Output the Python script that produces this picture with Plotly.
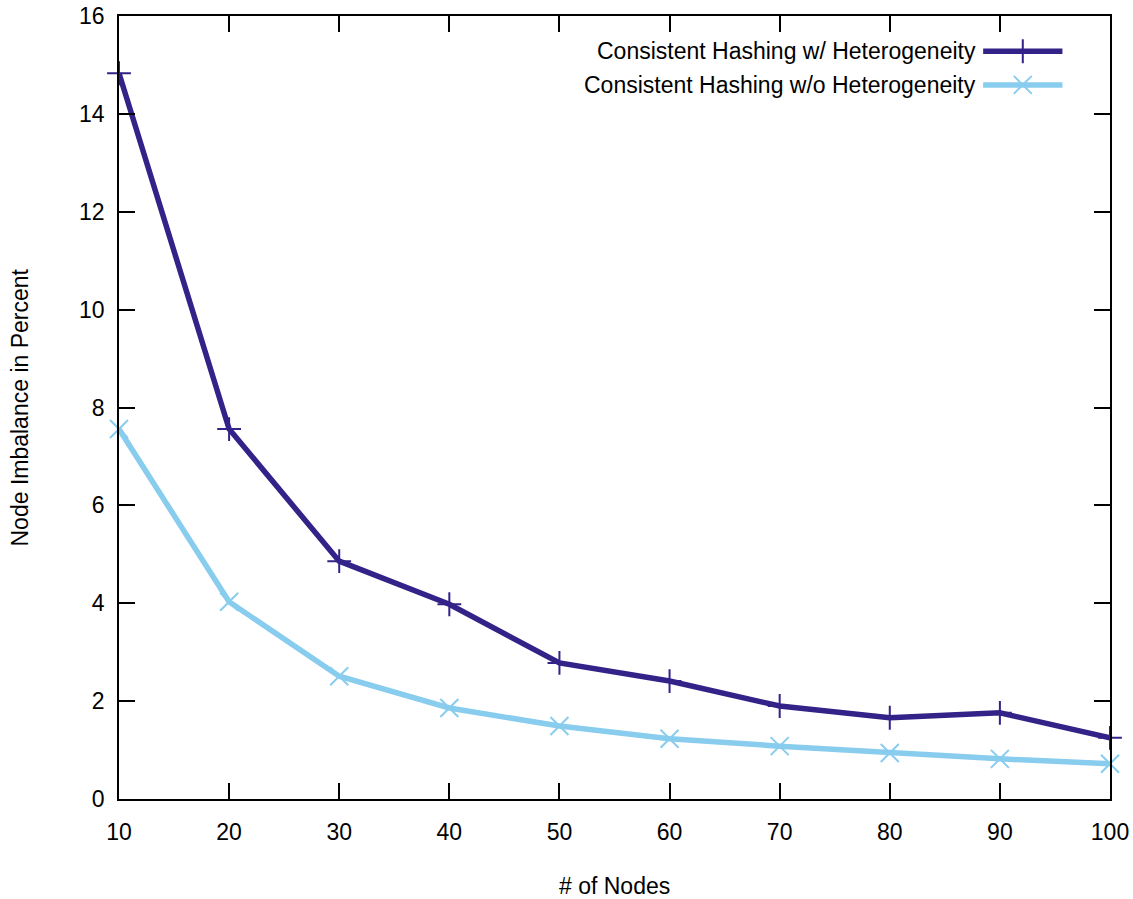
import plotly.graph_objects as go

nodes = [10, 20, 30, 40, 50, 60, 70, 80, 90, 100]
with_het = [14.83, 7.56, 4.86, 3.98, 2.78, 2.41, 1.90, 1.66, 1.76, 1.25]
without_het = [7.56, 4.03, 2.51, 1.86, 1.49, 1.23, 1.08, 0.94, 0.82, 0.72]
series_names = ["Consistent Hashing w/ Heterogeneity", "Consistent Hashing w/o Heterogeneity"]
colors = ["#332288", "#88CCEE"]
symbols = ["cross-thin", "x-thin"]
marker_sizes = [17, 18]
x_ticks = list(range(10, 101, 10))
y_ticks = list(range(0, 17, 2))

FONT = "Liberation Sans, Arial, sans-serif"
FS = 23
LW = 5.5

fig = go.Figure()
for ys, name, c, s, sz in zip([with_het, without_het], series_names, colors, symbols, marker_sizes):
    fig.add_trace(go.Scatter(
        x=nodes, y=ys, mode="lines+markers", name=name,
        line=dict(color=c, width=LW),
        marker=dict(symbol=s, size=sz, color=c, line=dict(color=c, width=2)),
        cliponaxis=False, showlegend=False,
    ))

# custom legend (text left of sample, like gnuplot)
legend_y = [0.955, 0.912]
for i, (name, c, s, sz) in enumerate(zip(series_names, colors, symbols, marker_sizes)):
    fig.add_annotation(x=0.867, y=legend_y[i], xref="paper", yref="paper",
                       text=name, showarrow=False, xanchor="right", yanchor="middle",
                       font=dict(family=FONT, size=FS, color="black"))
    fig.add_trace(go.Scatter(
        x=[0.872, 0.952], y=[legend_y[i]] * 2, xaxis="x2", yaxis="y2",
        mode="lines", line=dict(color=c, width=LW), showlegend=False, hoverinfo="skip"))
    fig.add_trace(go.Scatter(
        x=[0.912], y=[legend_y[i]], xaxis="x2", yaxis="y2",
        mode="markers", marker=dict(symbol=s, size=sz, color=c, line=dict(color=c, width=2)),
        showlegend=False, hoverinfo="skip"))

# axis titles as annotations for exact placement
fig.add_annotation(x=0.5, y=-0.111, xref="paper", yref="paper", text="# of Nodes",
                   showarrow=False, xanchor="center", yanchor="middle",
                   font=dict(family=FONT, size=FS, color="black"))
fig.add_annotation(x=-0.0999, y=0.5, xref="paper", yref="paper", text="Node Imbalance in Percent",
                   showarrow=False, xanchor="center", yanchor="middle", textangle=-90,
                   font=dict(family=FONT, size=FS, color="black"))

axis_common = dict(
    showline=True, linecolor="black", linewidth=1.5, mirror="allticks",
    ticks="inside", ticklen=16, tickwidth=1.5, tickcolor="black",
    showgrid=False, zeroline=False, automargin=False,
    tickfont=dict(family=FONT, size=FS, color="black"),
)
fig.update_layout(
    width=1133, height=899,
    margin=dict(l=119, r=23, t=16, b=100),
    plot_bgcolor="white", paper_bgcolor="white",
    xaxis=dict(range=[10, 100], tickvals=x_ticks, ticklabelstandoff=12, **axis_common),
    yaxis=dict(range=[0, 16], tickvals=y_ticks, ticklabelstandoff=8, **axis_common),
    xaxis2=dict(domain=[0, 1], range=[0, 1], overlaying="x", visible=False, fixedrange=True),
    yaxis2=dict(domain=[0, 1], range=[0, 1], overlaying="y", visible=False, fixedrange=True),
    showlegend=False,
)

fig.write_html("out.html")
